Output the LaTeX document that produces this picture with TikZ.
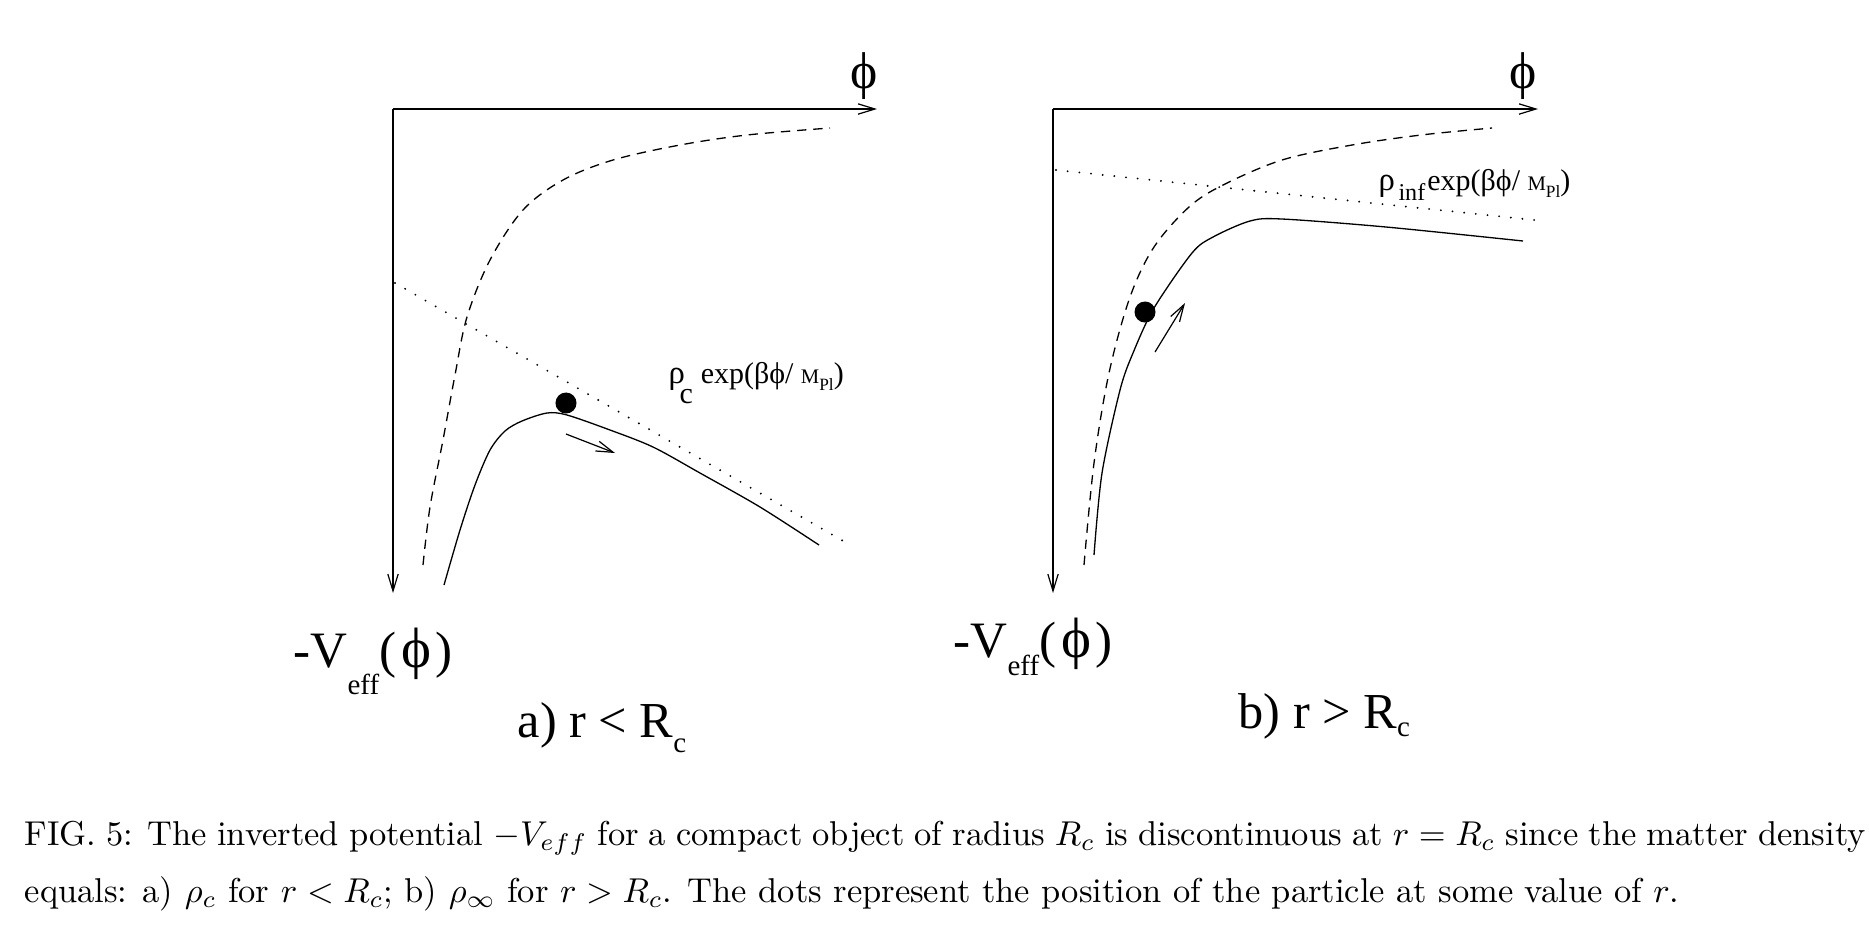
\documentclass[tikz,border=0pt]{standalone}
\usepackage{fontspec}
\usetikzlibrary{arrows.meta}
\newfontfamily\tms{Liberation Serif}
\newcommand\fs[1]{\fontsize{#1}{#1}\selectfont}
\begin{document}
\begin{tikzpicture}[x=0.29pt,y=-0.29pt,
  ax/.style={line width=0.35pt,-{Straight Barb[length=4.9pt,width=3pt]}},
  crv/.style={line width=0.38pt},
  dsh/.style={line width=0.38pt,dash pattern=on 2.7pt off 2pt},
  dtt/.style={line width=0.6pt,line cap=round,dash pattern=on 0pt off 3.4pt},
  dot/.style={circle,fill=black,inner sep=0pt,minimum size=6.1pt},
  lab/.style={inner sep=0pt,anchor=base west,font=\tms},
  every node/.append style={inner sep=0pt}]
\useasboundingbox (0,0) rectangle (1869,948);

% ---------- panel a ----------
\coordinate (oA) at (393,109);
\coordinate (xA) at (877,109);
\coordinate (yA) at (393,593);
\draw[ax] (oA) -- (xA);
\draw[ax] (oA) -- (yA);
\node[font=\tms\fs{15}] (phiA) at (864,76) {ϕ};
\draw[dsh] plot[smooth,tension=0.55] coordinates {(423,565) (430,507) (443,440) (455,375) (467,317) (490,260) (523,210) (563,180) (613,160) (680,145) (747,135) (830,128)};
\draw[dtt] (395,283) -- (845,542);
\draw[crv] plot[smooth,tension=0.5] coordinates {(444,585) (460,530) (475,485) (490,450) (505,431) (522,421) (547,413) (567,415) (610,430) (653,447) (700,473) (760,507) (819,545)};
\node[dot] (dotA) at (566,403) {};
\coordinate (aA1) at (566,434);
\coordinate (aA2) at (615,453);
\draw[ax] (aA1) -- (aA2);
\node[lab] (rhoc) at (668,383) {{\fs{9.5}ρ}\hspace{-1.6pt}\raisebox{-5.8pt}{\fs{8.7}c}\hspace{2.3pt}{\fs{8.7}exp(βϕ/ }{\fs{6}M\raisebox{-2.3pt}{\fs{5}Pl}}{\fs{8.7})}};
\node[lab] (VA) at (293,667) {\fs{14.8}-V\raisebox{-8.1pt}{\fs{8.4}eff}(\hspace{1.5pt}{\fs{16.5}ϕ}\hspace{1.2pt})};
\node[lab] (capA) at (517,737) {\fs{14.6}a) r < R\raisebox{-4.6pt}{\fs{8.4}c}};

% ---------- panel b ----------
\coordinate (oB) at (1053,109);
\coordinate (xB) at (1538,109);
\coordinate (yB) at (1053,593);
\draw[ax] (oB) -- (xB);
\draw[ax] (oB) -- (yB);
\node[font=\tms\fs{15}] (phiB) at (1523,76) {ϕ};
\draw[dtt] (1056,170) -- (1544,221);
\draw[dsh] plot[smooth,tension=0.55] coordinates {(1084,565) (1094,463) (1109,373) (1130,297) (1154,247) (1189,207) (1223,185) (1282,160) (1352,145) (1421,135) (1492,128)};
\draw[crv] plot[smooth,tension=0.5] coordinates {(1094,555) (1102,473) (1120,390) (1133,353) (1154,308) (1192,253) (1213,237) (1250,221) (1282,219) (1386,227) (1523,241)};
\node[dot] (dotB) at (1145,312) {};
\coordinate (aB1) at (1155,352);
\coordinate (aB2) at (1185,303);
\draw[ax] (aB1) -- (aB2);
\node[lab] (rhoi) at (1378,190) {{\fs{9.5}ρ}\hspace{1pt}\raisebox{-2.9pt}{\fs{7}inf}\hspace{0.6pt}{\fs{8.7}exp(βϕ/ }{\fs{6}M\raisebox{-2.3pt}{\fs{5}Pl}}{\fs{8.7})}};
\node[lab] (VB) at (953,657) {\fs{14.8}-V\raisebox{-5.5pt}{\fs{8.4}eff}(\hspace{1.5pt}{\fs{16.5}ϕ}\hspace{1.2pt})};
\node[lab] (capB) at (1238,728) {\fs{14.6}b) r > R\raisebox{-2.6pt}{\fs{8.4}c}};

% ---------- caption ----------
\node[anchor=base west] (cap1) at (24,845) {\fontsize{10}{16.5}\selectfont\hbox to 533.9pt{FIG.\ 5: The inverted potential $-V_{eff}$ for a compact object of radius $R_c$ is discontinuous at $r=R_c$ since the matter density}};
\node[anchor=base west] (cap2) at (24,902) {\fontsize{10}{16.5}\selectfont equals: a) $\rho_c$ for $r<R_c$; b) $\rho_\infty$ for $r>R_c$. The dots represent the position of the particle at some value of $r$.};
\end{tikzpicture}
\end{document}
